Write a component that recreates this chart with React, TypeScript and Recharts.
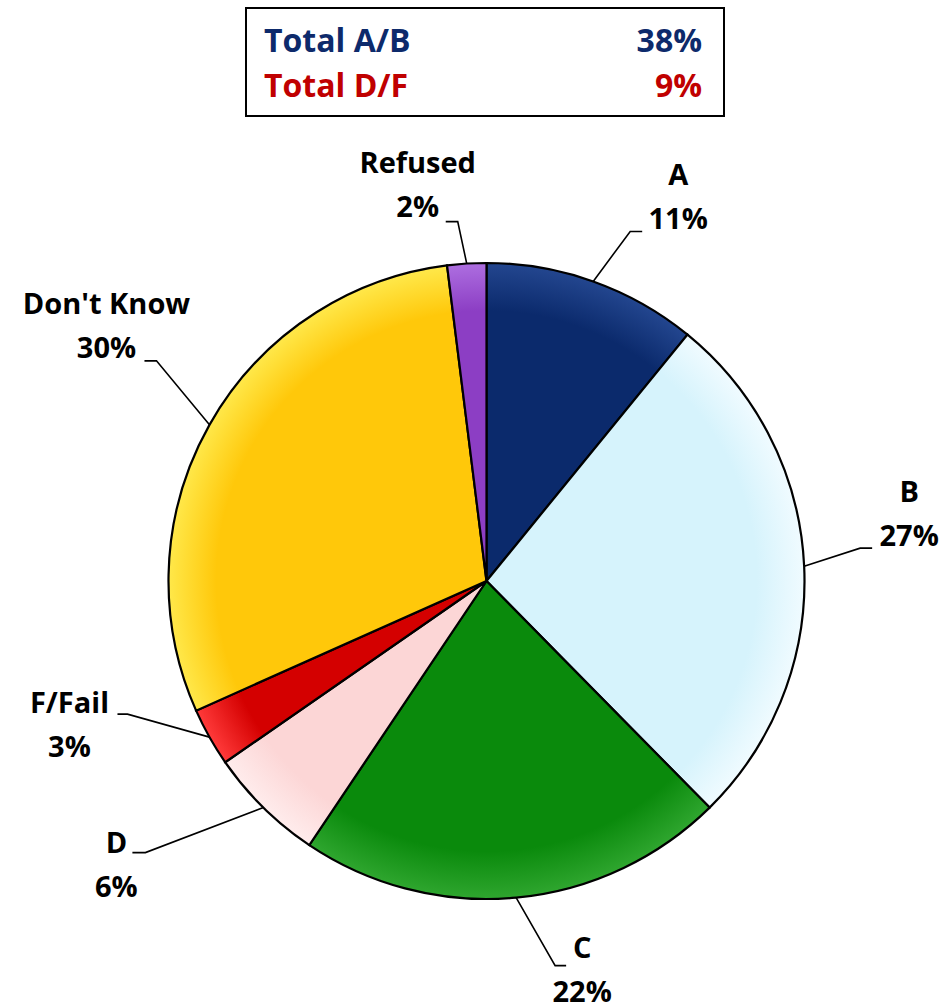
import React from "react";
import { PieChart, Pie, Cell } from "recharts";

const categories = ["A", "B", "C", "D", "F/Fail", "Don't Know", "Refused"];
const values = [11, 27, 22, 6, 3, 30, 2];
const sliceColors = ["#0b2a6c", "#d6f3fc", "#0a8a0c", "#fcd6d6", "#d40000", "#ffc80a", "#8c3ec4"];
const rimColors = ["#23468f", "#f0fbff", "#2fa62f", "#ffecec", "#ff3a3a", "#ffe84a", "#ad6ee0"];

const totalLabels = ["Total A/B", "Total D/F"];
const totalMembers = [["A", "B"], ["D", "F/Fail"]];
const totalColors = ["#0d2a6b", "#c00000"];

// leader layout per slice: elbow offset from rim point, horizontal run, text centre offset, first baseline offset
const leaderLayout = [
  { ex: 37, ey: -50, run: 12, tx: 36, ty: -46 },
  { ex: 56, ey: -18, run: 12, tx: 37, ty: -46 },
  { ex: 39, ey: 68, run: 11, tx: 16, ty: -8 },
  { ex: -118, ey: 45, run: -13, tx: -16, ty: 0 },
  { ex: -82, ey: -23, run: -10, tx: -48, ty: -1 },
  { ex: -53, ey: -64, run: -12, tx: -38, ty: -47 },
  { ex: -9, ey: -42, run: -12, tx: -28, ty: -49 },
];

const data = categories.map((name, i) => ({ name, value: values[i] }));

const FONT = "'Open Sans', Lato, sans-serif";
const RAD = Math.PI / 180;

const renderLabel = (props: any) => {
  const { cx, cy, midAngle, outerRadius, index, name, value } = props;
  const lay = leaderLayout[index];
  const sx = cx + outerRadius * Math.cos(-midAngle * RAD);
  const sy = cy + outerRadius * Math.sin(-midAngle * RAD);
  const mx = sx + lay.ex;
  const my = sy + lay.ey;
  const endX = mx + lay.run;
  const tcx = endX + lay.tx;
  const base = my + lay.ty;
  return (
    <g>
      <polyline points={`${sx},${sy} ${mx},${my} ${endX},${my}`} fill="none" stroke="#000" strokeWidth={1.6} />
      <text x={tcx} y={base} textAnchor="middle" fontFamily={FONT} fontWeight={700} fontSize={29} fill="#000">
        {name}
      </text>
      <text x={tcx} y={base + 44} textAnchor="middle" fontFamily={FONT} fontWeight={700} fontSize={29} fill="#000">
        {`${value}%`}
      </text>
    </g>
  );
};

export default function App() {
  const totals = totalMembers.map((m) => m.reduce((s, n) => s + values[categories.indexOf(n)], 0));
  return (
    <div style={{ position: "absolute", left: 0, top: 0, width: 946, height: 1008, background: "#fff" }}>
      <PieChart width={946} height={1008} margin={{ top: 0, right: 0, bottom: 0, left: 0 }}>
        <defs>
          {sliceColors.map((c, i) => (
            <radialGradient key={i} id={`g${i}`} cx={486.5} cy={581} r={318} gradientUnits="userSpaceOnUse">
              <stop offset="0%" stopColor={c} />
              <stop offset="85%" stopColor={c} />
              <stop offset="100%" stopColor={rimColors[i]} />
            </radialGradient>
          ))}
        </defs>
        <Pie
          data={data}
          dataKey="value"
          nameKey="name"
          cx={486.5}
          cy={581}
          outerRadius={318}
          startAngle={90}
          endAngle={-270}
          stroke="#000"
          strokeWidth={2.2}
          label={renderLabel}
          labelLine={false}
          isAnimationActive={false}
        >
          {data.map((d, i) => (
            <Cell key={d.name} fill={`url(#g${i})`} />
          ))}
        </Pie>
      </PieChart>
      <div
        style={{
          position: "absolute",
          left: 245,
          top: 7,
          width: 476,
          height: 106,
          border: "2px solid #000",
          fontFamily: FONT,
          fontWeight: 700,
          fontSize: 32,
        }}
      >
        {totalLabels.map((t, i) => (
          <div
            key={t}
            style={{
              position: "absolute",
              left: 17,
              right: 21,
              top: 9 + i * 45,
              lineHeight: "44px",
              color: totalColors[i],
              display: "flex",
              justifyContent: "space-between",
            }}
          >
            <span>{t}</span>
            <span>{`${totals[i]}%`}</span>
          </div>
        ))}
      </div>
    </div>
  );
}
